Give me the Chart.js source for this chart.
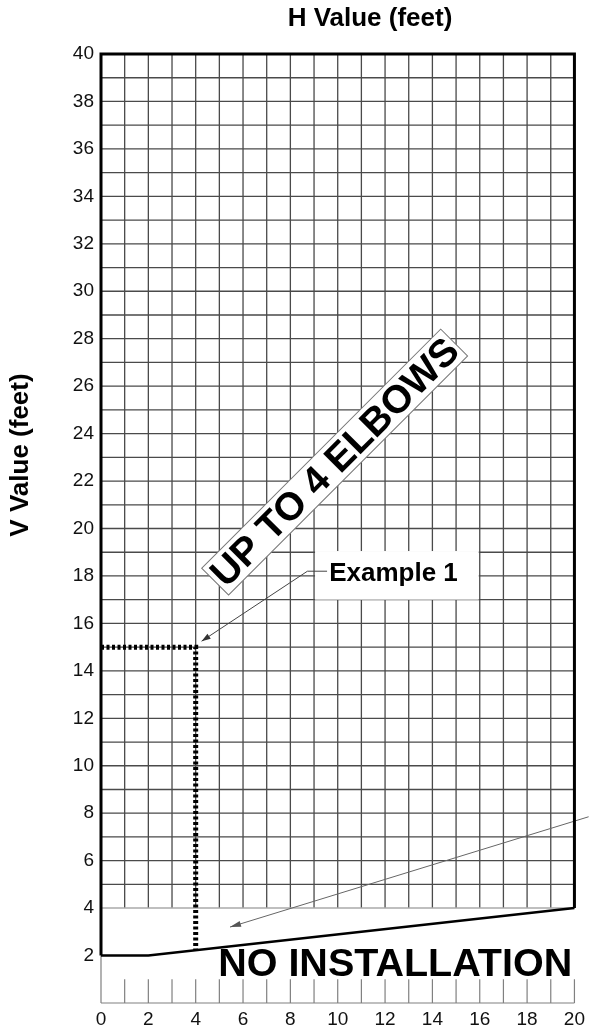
<!DOCTYPE html>
<html>
<head>
<meta charset="utf-8">
<script src="https://cdn.jsdelivr.net/npm/chart.js"></script>
<style>
  html, body { margin: 0; padding: 0; background: #fff; }
</style>
</head>
<body>
<canvas id="vent-chart" width="590" height="1028"></canvas>
<script>
// boundary between "no installation" and the allowed zone (H, V in feet)
var boundaryH = [0, 2, 20];
var boundaryV = [2, 2, 4];
// heavy outline of the allowed zone
var frameH = [0, 0, 20, 20];
var frameV = [2, 40, 40, 4];
// example 1 reading: H = 4 ft, V = 15 ft
var exampleH = [0, 4, 4];
var exampleV = [15, 15, 2.2];
// leader lines
var exampleLeaderH = [9.55, 8.72, 4.25];
var exampleLeaderV = [18.2, 18.2, 15.25];
var zoneLeaderH = [20.6, 5.45];
var zoneLeaderV = [7.85, 3.2];
// labels
var hTitle = 'H Value (feet)';
var vTitle = 'V Value (feet)';
var zoneLabel = 'UP TO 4 ELBOWS';
var exampleLabel = 'Example 1';
var noZoneLabel = 'NO INSTALLATION';

function pts(xs, ys) {
    return xs.map(function(x, i) { return { x: x, y: ys[i] }; });
}

var FONT = '"Liberation Sans", Arial, sans-serif';

function arrowHead(ctx, x0, y0, x1, y1, len, half) {
    var a = Math.atan2(y1 - y0, x1 - x0);
    ctx.beginPath();
    ctx.moveTo(x1, y1);
    ctx.lineTo(x1 - len * Math.cos(a) + half * Math.sin(a), y1 - len * Math.sin(a) - half * Math.cos(a));
    ctx.lineTo(x1 - len * Math.cos(a) - half * Math.sin(a), y1 - len * Math.sin(a) + half * Math.cos(a));
    ctx.closePath();
    ctx.fill();
}

var gridPlugin = {
    id: 'ventGrid',
    beforeDatasetsDraw: function(chart) {
        var ctx = chart.ctx, xs = chart.scales.x, ys = chart.scales.y;
        var X = function(v) { return xs.getPixelForValue(v); };
        var Y = function(v) { return ys.getPixelForValue(v); };
        ctx.save();
        // main grid above V = 4
        ctx.strokeStyle = '#4a4a4a';
        ctx.lineWidth = 1.3;
        ctx.beginPath();
        for (var h = 1; h < 20; h++) {
            ctx.moveTo(X(h), Y(4)); ctx.lineTo(X(h), Y(40));
        }
        for (var v = 5; v < 40; v++) {
            ctx.moveTo(X(0), Y(v)); ctx.lineTo(X(20), Y(v));
        }
        ctx.stroke();
        // lighter line at V = 4
        ctx.strokeStyle = '#aaaaaa';
        ctx.lineWidth = 1.5;
        ctx.beginPath();
        ctx.moveTo(X(0), Y(4)); ctx.lineTo(X(20), Y(4));
        ctx.stroke();
        // bottom ruler
        ctx.strokeStyle = '#808080';
        ctx.lineWidth = 1.2;
        ctx.beginPath();
        for (var k = 0; k <= 20; k++) {
            ctx.moveTo(X(k), Y(0)); ctx.lineTo(X(k), Y(k === 0 ? 2 : 1));
        }
        ctx.moveTo(X(0), Y(0)); ctx.lineTo(X(20), Y(0));
        ctx.stroke();
        // white panel behind "Example 1"
        ctx.fillStyle = '#fff';
        ctx.fillRect(X(9) + 1, Y(19.05), X(16) - X(9) - 2, Y(17) - Y(19.05));
        // rotated panel behind the zone label
        ctx.translate(X(9.87), Y(22.8));
        ctx.rotate(-Math.PI / 4);
        ctx.fillStyle = '#fff';
        ctx.fillRect(-169, -19, 338, 38);
        ctx.strokeStyle = '#777';
        ctx.lineWidth = 1;
        ctx.strokeRect(-169, -19, 338, 38);
        ctx.restore();
    },
    afterDatasetsDraw: function(chart) {
        var ctx = chart.ctx, xs = chart.scales.x, ys = chart.scales.y;
        var X = function(v) { return xs.getPixelForValue(v); };
        var Y = function(v) { return ys.getPixelForValue(v); };
        ctx.save();
        // arrow heads
        var n = exampleLeaderH.length;
        ctx.fillStyle = '#333';
        arrowHead(ctx, X(exampleLeaderH[n - 2]), Y(exampleLeaderV[n - 2]),
                  X(exampleLeaderH[n - 1]), Y(exampleLeaderV[n - 1]), 9, 3);
        ctx.fillStyle = '#555';
        arrowHead(ctx, X(zoneLeaderH[0]), Y(zoneLeaderV[0]), X(zoneLeaderH[1]), Y(zoneLeaderV[1]), 11, 3);

        ctx.fillStyle = '#000';
        // axis titles
        ctx.font = 'bold 26px ' + FONT;
        ctx.textAlign = 'center';
        ctx.textBaseline = 'middle';
        ctx.fillText(hTitle, 370, 19);
        ctx.save();
        ctx.translate(21, 455);
        ctx.rotate(-Math.PI / 2);
        ctx.fillText(vTitle, 0, 0);
        ctx.restore();

        // example label
        ctx.font = 'bold 26px ' + FONT;
        ctx.textAlign = 'left';
        ctx.fillText(exampleLabel, X(9.64), Y(18.1));

        // zone label
        ctx.save();
        ctx.translate(X(9.87), Y(22.8));
        ctx.rotate(-Math.PI / 4);
        ctx.font = 'bold 39px ' + FONT;
        ctx.textAlign = 'center';
        ctx.textBaseline = 'middle';
        ctx.fillText(zoneLabel, 0, 2);
        ctx.restore();

        // no installation
        ctx.font = 'bold 39.5px ' + FONT;
        ctx.textAlign = 'left';
        ctx.textBaseline = 'alphabetic';
        ctx.fillText(noZoneLabel, X(4.95), Y(1.12));
        ctx.restore();
    }
};

var ctx = document.getElementById('vent-chart').getContext('2d');
var ventChart = new Chart(ctx, {
    type: 'scatter',
    data: {
        datasets: [{
            data: pts(frameH, frameV),
            showLine: true,
            borderColor: '#000',
            borderWidth: 3,
            pointRadius: 0,
            clip: false
        }, {
            data: pts(boundaryH, boundaryV),
            showLine: true,
            borderColor: '#000',
            borderWidth: 2.5,
            pointRadius: 0,
            clip: false
        }, {
            data: pts(exampleH, exampleV),
            showLine: true,
            borderColor: '#000',
            borderWidth: 5,
            borderDash: [3, 2.5],
            pointRadius: 0,
            clip: false
        }, {
            data: pts(exampleLeaderH, exampleLeaderV),
            showLine: true,
            borderColor: '#444',
            borderWidth: 1,
            pointRadius: 0,
            clip: false
        }, {
            data: pts(zoneLeaderH, zoneLeaderV),
            showLine: true,
            borderColor: '#666',
            borderWidth: 1,
            pointRadius: 0,
            clip: false
        }]
    },
    options: {
        responsive: false,
        animation: false,
        devicePixelRatio: 1,
        layout: { padding: { top: 54, right: 11, left: 0, bottom: 0 } },
        plugins: {
            legend: { display: false },
            tooltip: { enabled: false }
        },
        scales: {
            x: {
                type: 'linear',
                min: 0,
                max: 20,
                grid: { display: false, drawTicks: false },
                border: { display: false },
                ticks: {
                    stepSize: 2,
                    padding: 5,
                    maxRotation: 0,
                    autoSkip: false,
                    color: '#111',
                    font: { size: 19, family: FONT }
                },
                afterFit: function(s) { s.height = 25; }
            },
            y: {
                type: 'linear',
                min: 0,
                max: 40,
                grid: { display: false, drawTicks: false },
                border: { display: false },
                ticks: {
                    stepSize: 2,
                    padding: 7,
                    autoSkip: false,
                    color: '#111',
                    font: { size: 19, family: FONT },
                    callback: function(v) { return v === 0 ? '' : v; }
                },
                afterFit: function(s) { s.width = 101; }
            }
        }
    },
    plugins: [gridPlugin]
});
</script>
</body>
</html>
